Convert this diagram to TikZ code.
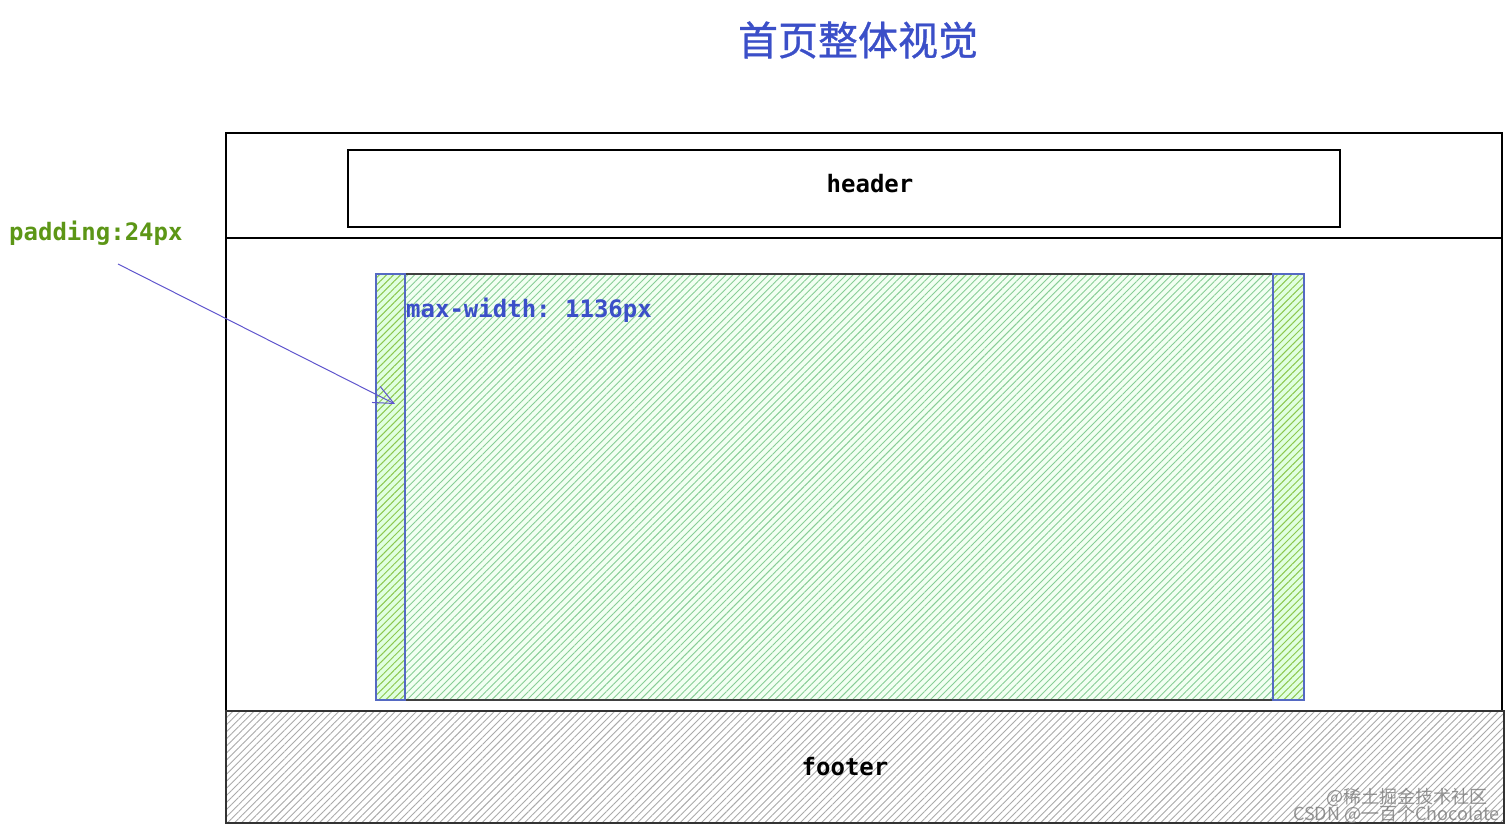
\documentclass[tikz,border=0pt]{standalone}
\usepackage{fontspec}
\setmonofont{DejaVu Sans Mono}
\newfontfamily\cjkfont{Noto Sans CJK SC}
\newfontfamily\cjktitle[FakeBold=0.8]{Noto Sans CJK SC}
\usetikzlibrary{arrows.meta,patterns.meta}
\definecolor{titleblue}{RGB}{59,79,200}
\definecolor{padgreen}{RGB}{92,150,22}
\definecolor{arrowviolet}{RGB}{95,85,205}
\definecolor{mainhatch}{RGB}{135,205,150}
\definecolor{padhatch}{RGB}{140,200,80}
\definecolor{foothatch}{RGB}{170,170,170}
\definecolor{stripblue}{RGB}{85,105,195}
\tikzset{
  frame/.style={draw=black, line width=1.3pt},
  monotxt/.style={font=\ttfamily\bfseries\fontsize{24}{28}\selectfont, inner sep=0pt},
  hdrbox/.style={draw=black, line width=1.2pt, inner sep=0pt},
  mainbox/.style={draw=black!75, line width=1.1pt, inner sep=0pt, preaction={fill=green!5},
                  pattern={Lines[angle=45,distance=5pt,line width=0.9pt]},
                  pattern color=mainhatch},
  padbox/.style={draw=stripblue, line width=1.1pt, inner sep=0pt, preaction={fill=green!12},
                 pattern={Lines[angle=45,distance=5pt,line width=1pt]},
                 pattern color=padhatch},
  footbox/.style={draw=black!80, line width=1.3pt, inner sep=0pt, preaction={fill=white},
                  pattern={Lines[angle=45,distance=5pt,line width=0.9pt]},
                  pattern color=foothatch},
  padarr/.style={-{Straight Barb[length=20pt,width=18pt]}, arrowviolet, line width=1pt},
  wmark/.style={font=\cjkfont\fontsize{18}{20}\selectfont, text=black!55, opacity=0.75,
                inner sep=0pt, anchor=east},
}

\begin{document}
\begin{tikzpicture}[x=1pt, y=-1pt]
  \useasboundingbox (0,0) rectangle (1512,831);
  % title
  \node[font=\cjktitle\fontsize{40}{44}\selectfont, text=titleblue] (title) at (858,40) {首页整体视觉};
  % page frame with header band
  \draw[frame] (226,133) rectangle (1502,823);
  \draw[frame] (226,238) -- (1502,238);
  \node[hdrbox, minimum width=992pt, minimum height=77pt] (header) at (844,188.5) {};
  \node[monotxt] (hdrlab) at (870,184) {header};
  % content area with paddings
  \node[mainbox, minimum width=928pt, minimum height=426pt] (main) at (840,487) {};
  \node[padbox, minimum width=29pt, minimum height=426pt] (padl) at (390.5,487) {};
  \node[padbox, minimum width=31pt, minimum height=426pt] (padr) at (1288.5,487) {};
  \node[monotxt, text=titleblue, anchor=west] (maxw) at (406,310) {max-width: 1136px};
  % padding note
  \node[monotxt, text=padgreen, anchor=west] (padlab) at (9,233) {padding:24px};
  \coordinate (ptail) at (118,264);
  \coordinate (ptip) at (395,404);
  \draw[padarr] (ptail) -- (ptip);
  % footer
  \node[footbox, minimum width=1278pt, minimum height=112pt] (footer) at (865,767) {};
  \node[monotxt] (ftrlab) at (845,767) {footer};
  % watermark
  \node[wmark] (wm1) at (1488,797) {@稀土掘金技术社区};
  \node[wmark] (wm2) at (1500,814) {CSDN @一百个Chocolate};
\end{tikzpicture}
\end{document}
